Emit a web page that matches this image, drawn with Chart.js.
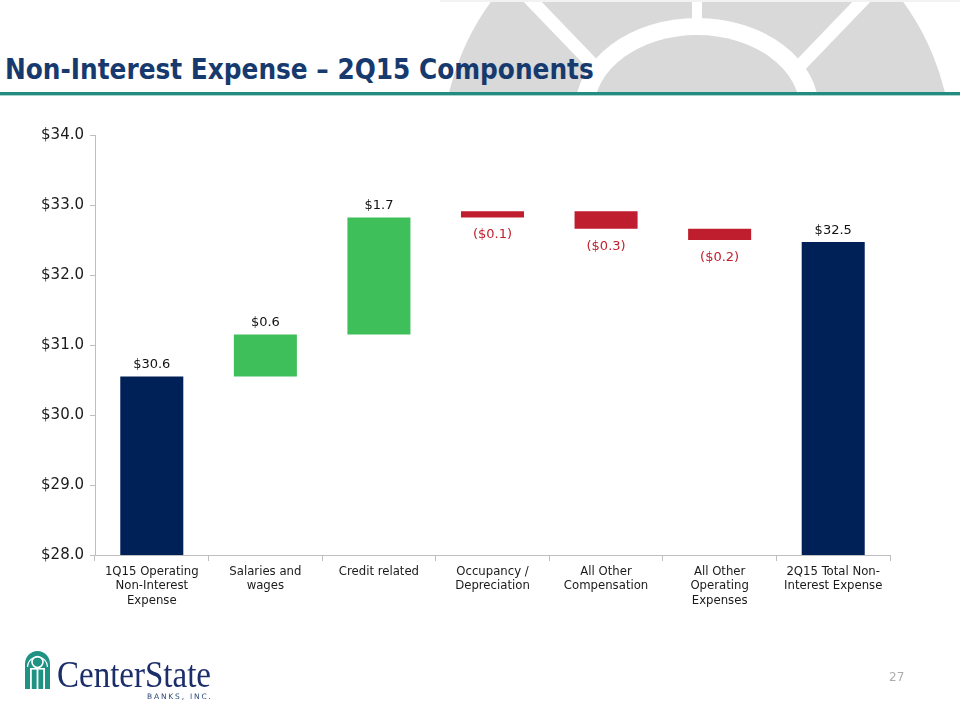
<!DOCTYPE html>
<html>
<head>
<meta charset="utf-8">
<script src="https://cdn.jsdelivr.net/npm/chart.js@4/dist/chart.umd.min.js"></script>
<style>
  html, body { margin: 0; padding: 0; background: #ffffff; }
  #page { position: relative; width: 960px; height: 720px; overflow: hidden; background: #ffffff; }
  #deco { position: absolute; left: 0; top: 0; }
  #title { position: absolute; left: 5px; top: 53px; font-family: "DejaVu Sans Condensed", "DejaVu Sans", sans-serif; font-weight: bold; font-size: 27.6px; color: #173A6E; white-space: nowrap; }
  #rule1 { position: absolute; left: 0; top: 92px; width: 960px; height: 3px; background: #238C81; }
  #rule2 { position: absolute; left: 0; top: 95px; width: 960px; height: 1px; background: #A9D5CF; }
  #chart { position: absolute; left: 0; top: 0; }
  #pagenum { position: absolute; left: 889px; top: 670px; font-family: "DejaVu Sans", sans-serif; font-size: 12px; color: #ADADAD; }
  #logo { position: absolute; left: 0; top: 640px; }
</style>
</head>
<body>
<div id="page">
  <svg id="deco" width="960" height="92" viewBox="0 0 960 92">
    <defs>
      <clipPath id="c"><rect x="0" y="0" width="960" height="92"/></clipPath>
    </defs>
    <g clip-path="url(#c)">
      <circle cx="697" cy="152" r="255" fill="#D9D9D9"/>
      <line x1="527" y1="-4" x2="604" y2="76" stroke="#ffffff" stroke-width="13"/>
      <line x1="867" y1="-4" x2="790" y2="76" stroke="#ffffff" stroke-width="13"/>
      <rect x="692" y="0" width="10" height="26" fill="#ffffff"/>
      <ellipse cx="697" cy="110" rx="122" ry="92" fill="#ffffff"/>
      <ellipse cx="697" cy="110" rx="103" ry="75" fill="#D9D9D9"/>
      <rect x="440" y="0" width="520" height="2" fill="#F2F2F2"/>
    </g>
  </svg>
  <div id="title">Non-Interest Expense – 2Q15 Components</div>
  <div id="rule1"></div>
  <div id="rule2"></div>
  <canvas id="chart" width="960" height="720"></canvas>
  <svg id="logo" width="240" height="70" viewBox="0 640 240 70">
    <g>
      <path d="M25,689 L25,664 A12.5,13 0 0 1 50,664 L50,689 Z" fill="#1E9383"/>
      <circle cx="37.5" cy="662" r="5.5" fill="none" stroke="#ffffff" stroke-width="1.6"/>
      <path d="M27.5,667 A10,10 0 0 1 47.5,667" fill="none" stroke="#ffffff" stroke-width="1.2"/>
      <rect x="30" y="668" width="1.8" height="21" fill="#ffffff"/>
      <rect x="43.2" y="668" width="1.8" height="21" fill="#ffffff"/>
      <rect x="36.6" y="668" width="1.8" height="21" fill="#ffffff"/>
      <rect x="30" y="668" width="15" height="1.6" fill="#ffffff"/>
    </g>
    <text x="57" y="687" font-family="'Liberation Serif', serif" font-size="38" fill="#1B2E6A" textLength="154" lengthAdjust="spacingAndGlyphs">CenterState</text>
    <text x="147" y="699" font-family="'DejaVu Sans', sans-serif" font-size="7.5" fill="#2D4A78" textLength="64" lengthAdjust="spacing">BANKS, INC.</text>
  </svg>
  <div id="pagenum">27</div>
</div>
<script>
// ---- data ----
const categories = [
  ["1Q15 Operating", "Non-Interest", "Expense"],
  ["Salaries and", "wages"],
  ["Credit related"],
  ["Occupancy /", "Depreciation"],
  ["All Other", "Compensation"],
  ["All Other", "Operating", "Expenses"],
  ["2Q15 Total Non-", "Interest Expense"]
];
const barLow  = [28.00, 30.55, 31.15, 32.82, 32.66, 32.50, 28.00];
const barHigh = [30.55, 31.15, 32.82, 32.91, 32.91, 32.66, 32.47];
const valueLabels = ["$30.6", "$0.6", "$1.7", "($0.1)", "($0.3)", "($0.2)", "$32.5"];
const barKinds = ["total", "increase", "increase", "decrease", "decrease", "decrease", "total"];
const yTickValues = [28, 29, 30, 31, 32, 33, 34];

// ---- styles ----
const kindColors = { total: "#002157", increase: "#3FBF5A", decrease: "#BE1E2D" };
const labelColors = { total: "#111111", increase: "#111111", decrease: "#C0202E" };

const valueLabelPlugin = {
  id: "valueLabels",
  afterDatasetsDraw(chart) {
    const ctx = chart.ctx;
    const meta = chart.getDatasetMeta(0);
    ctx.save();
    ctx.font = '13px "DejaVu Sans", sans-serif';
    ctx.textAlign = "center";
    meta.data.forEach((bar, i) => {
      const p = bar.getProps(["x", "y", "base"], true);
      const top = Math.min(p.y, p.base);
      const bottom = Math.max(p.y, p.base);
      ctx.fillStyle = labelColors[barKinds[i]];
      if (barKinds[i] === "decrease") {
        ctx.textBaseline = "top";
        ctx.fillText(valueLabels[i], p.x, bottom + 11);
      } else {
        ctx.textBaseline = "bottom";
        ctx.fillText(valueLabels[i], p.x, top - 5);
      }
    });
    ctx.restore();
  }
};

new Chart(document.getElementById("chart"), {
  type: "bar",
  data: {
    labels: categories,
    datasets: [{
      data: barLow.map((lo, i) => [lo, barHigh[i]]),
      backgroundColor: barKinds.map(k => kindColors[k]),
      borderWidth: 0,
      barPercentage: 0.555,
      categoryPercentage: 1.0
    }]
  },
  options: {
    responsive: false,
    animation: false,
    devicePixelRatio: 1,
    layout: { padding: { top: 135, right: 70, left: 0, bottom: 0 } },
    plugins: { legend: { display: false }, tooltip: { enabled: false } },
    scales: {
      x: {
        offset: true,
        grid: { offset: true, drawOnChartArea: false, drawTicks: true, tickLength: 6, color: "#BFBFBF" },
        border: { display: true, color: "#BFBFBF", width: 1 },
        ticks: {
          autoSkip: false, maxRotation: 0, minRotation: 0, padding: 3,
          color: "#1a1a1a",
          font: { family: '"DejaVu Sans Condensed", "DejaVu Sans", sans-serif', size: 13, lineHeight: 1.12 }
        },
        afterFit(scale) { scale.height = 165; }
      },
      y: {
        min: 28, max: 34,
        afterBuildTicks(scale) { scale.ticks = yTickValues.map(v => ({ value: v })); },
        grid: { drawOnChartArea: false, drawTicks: true, tickLength: 5, color: "#BFBFBF" },
        border: { display: true, color: "#BFBFBF", width: 1 },
        ticks: {
          padding: 6,
          color: "#1a1a1a",
          font: { family: '"DejaVu Sans", sans-serif', size: 15 },
          callback: v => "$" + Number(v).toFixed(1)
        },
        afterFit(scale) { scale.width = 95; }
      }
    }
  },
  plugins: [valueLabelPlugin]
});
</script>
</body>
</html>
